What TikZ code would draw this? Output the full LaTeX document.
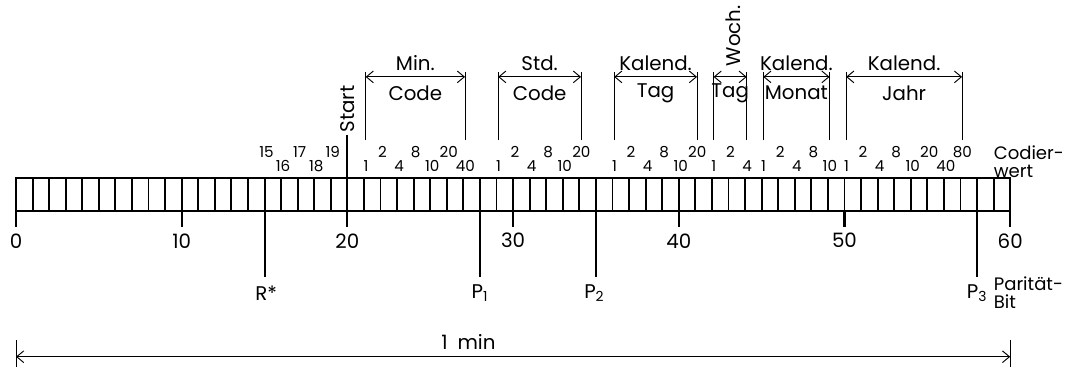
\documentclass[tikz,border=0pt]{standalone}
\usepackage{fontspec}
\setmainfont{Poppins}
\usetikzlibrary{arrows.meta}

\begin{document}
\begin{tikzpicture}[x=0.5cm, y=0.5cm,
    cell/.style={line width=1.6pt},
    markline/.style={line width=1.8pt},
    brk/.style={line width=0.8pt},
    dimarr/.style={{Straight Barb[length=6pt,width=10pt]}-{Straight Barb[length=6pt,width=10pt]},
                   line width=0.8pt},
    bigtxt/.style={font=\fontsize{17}{15.5}\selectfont, inner sep=1pt},
    sidetxt/.style={font=\fontsize{15.5}{15.5}\selectfont, inner sep=0pt, anchor=west, align=left},
    bittxt/.style={font=\fontsize{13}{14}\selectfont, inner sep=0pt}
  ]
  \useasboundingbox (-0.966,-9.41) rectangle (63.55,12.73);

  % Bit bar (60 s)
  \draw[cell] (0,0) rectangle (60,2);
  \foreach \i in {1,...,59}
    \draw[cell] (\i,0) -- (\i,2);

  % Seconds scale
  \foreach \k in {0,10,...,60} {
    \coordinate (s\k) at (\k,0);
    \draw[markline] (s\k) -- ++(0,-1);
    \node[bigtxt] (sl\k) at (\k,-1.8) {\k};
  }

  % Special bits: R*, parity bits
  \foreach \b/\n/\dx/\txt in {15/rs/0.1/R*, 28/pa/0/{P\textsubscript{1}},
                              35/pb/-0.1/{P\textsubscript{2}}, 58/pc/0/{P\textsubscript{3}}} {
    \coordinate (\n) at (\b,2);
    \draw[markline] (\n) -- ++(0,-6);
    \node[bigtxt] (\n l) at (\b+\dx,-4.95) {\txt};
  }
  \node[sidetxt] (parbit) at (59.0,-4.95) {Parität-\\Bit};

  % Start bit
  \coordinate (st) at (20,2);
  \draw[markline] (st) -- ++(0,2.6);
  \node[bigtxt, rotate=90, anchor=west] (start) at (20,4.65) {Start};

  % Code values above the bits
  \foreach \b/\v in {15/15, 17/17, 19/19, 22/2, 24/8, 26/20, 30/2, 32/8, 34/20,
                     37/2, 39/8, 41/20, 43/2, 46/2, 48/8, 51/2, 53/8, 55/20, 57/80}
    \node[bittxt] (v\b) at (\b+0.12,3.56) {\v};
  \foreach \b/\v in {16/16, 18/18, 21/1, 23/4, 25/10, 27/40, 29/1, 31/4, 33/10,
                     36/1, 38/4, 40/10, 42/1, 44/4, 45/1, 47/4, 49/10,
                     50/1, 52/4, 54/10, 56/40}
    \node[bittxt] (v\b) at (\b+0.12,2.72) {\v};
  \node[sidetxt] (cw) at (59.0,2.95) {Codier-\\wert};

  % Field brackets
  \foreach \a/\b/\top/\bot/\n in {21/27/Min./Code/min, 29/34/Std./Code/std,
                                  36/41/Kalend./Tag/tag, 42/44//Tag/wt,
                                  45/49/Kalend./Monat/mon, 50/57/Kalend./Jahr/jahr} {
    \coordinate (\n a) at (\a+0.1,4.28);
    \coordinate (\n b) at (\b+0.1,4.28);
    \draw[brk] (\n a) -- ++(0,4.11);
    \draw[brk] (\n b) -- ++(0,4.11);
    \draw[dimarr] ([yshift=3.81*0.5cm]\n a) -- ([yshift=3.81*0.5cm]\n b);
    \node[bigtxt] (\n top) at ({(\a+\b)/2+0.1},8.93) {\top};
    \node[bigtxt] (\n bot) at ({(\a+\b)/2+0.1},7.12) {\bot};
  }
  \node[bigtxt, rotate=90, anchor=west] (woch) at (43.3,8.65) {Woch.};

  % One minute
  \coordinate (m0) at (0,-8.8);
  \coordinate (m1) at (60,-8.8);
  \draw[brk] (0,-7.8) -- (0,-9.41);
  \draw[brk] (60,-7.8) -- (60,-9.41);
  \draw[dimarr] (m0) -- (m1);
  \node[bigtxt] (dauer) at (27.3,-7.9) {1\enspace min};
\end{tikzpicture}
\end{document}
